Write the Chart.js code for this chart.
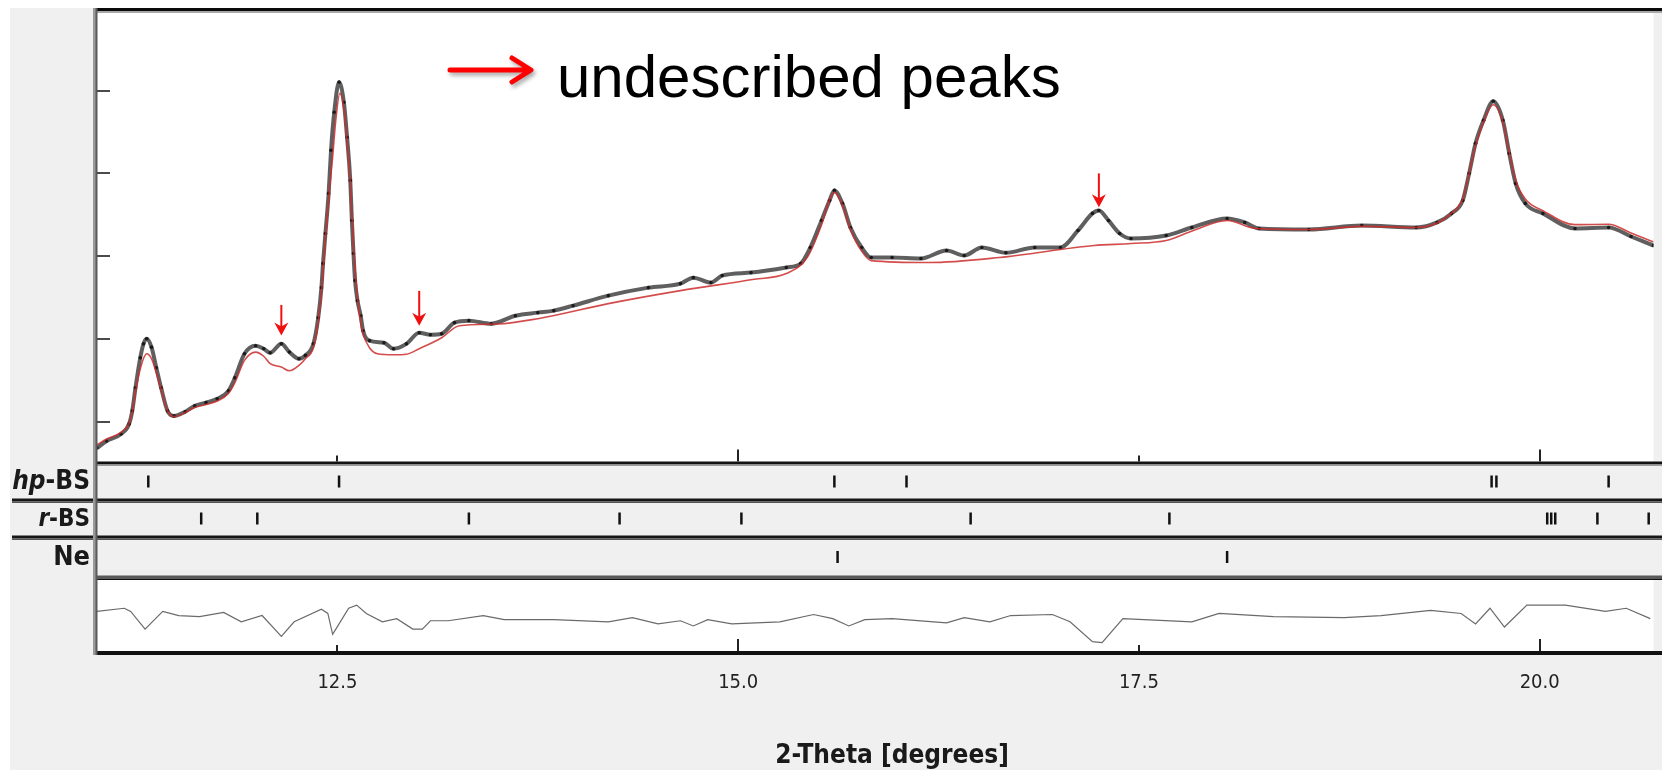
<!DOCTYPE html>
<html>
<head>
<meta charset="utf-8">
<script src="https://cdn.jsdelivr.net/npm/chart.js@4.4.1/dist/chart.umd.min.js"></script>
<style>
  html, body { margin: 0; padding: 0; background: #ffffff; }
  canvas { display: block; }
</style>
</head>
<body>
<canvas id="pattern" width="1662" height="770"></canvas>
<script>
// Observed powder pattern: 2-theta (degrees) and intensity (counts)
const obsTheta = [11.00, 11.06, 11.15, 11.20, 11.22, 11.24, 11.27, 11.29, 11.31, 11.34, 11.37, 11.40, 11.44, 11.48, 11.55, 11.61, 11.68, 11.75, 11.82, 11.86, 11.92, 11.99, 12.04, 12.08, 12.15, 12.20, 12.26, 12.30, 12.35, 12.38, 12.40, 12.41, 12.425, 12.445, 12.46, 12.48, 12.51, 12.54, 12.56, 12.58, 12.59, 12.60, 12.61, 12.625, 12.645, 12.66, 12.70, 12.79, 12.85, 12.93, 13.01, 13.08, 13.15, 13.23, 13.32, 13.46, 13.61, 13.75, 13.85, 13.97, 14.19, 14.44, 14.64, 14.72, 14.83, 14.90, 15.08, 15.30, 15.39, 15.45, 15.52, 15.57, 15.60, 15.65, 15.70, 15.77, 15.83, 15.96, 16.14, 16.30, 16.41, 16.52, 16.67, 16.85, 17.01, 17.12, 17.21, 17.25, 17.31, 17.38, 17.45, 17.67, 17.83, 18.05, 18.16, 18.25, 18.56, 18.89, 19.23, 19.36, 19.45, 19.52, 19.56, 19.60, 19.65, 19.71, 19.77, 19.81, 19.85, 19.91, 20.02, 20.22, 20.43, 20.57, 20.71];
const obsCounts = [682, 766, 851, 972, 1130, 1408, 1772, 1940, 2002, 1900, 1651, 1408, 1130, 1069, 1120, 1190, 1230, 1275, 1372, 1529, 1820, 1917, 1880, 1832, 1941, 1840, 1760, 1800, 1941, 2256, 2619, 2910, 3273, 3758, 4279, 4739, 5102, 4860, 4436, 3915, 3431, 3031, 2704, 2462, 2280, 2099, 1978, 1953, 1881, 1940, 2074, 2050, 2062, 2196, 2220, 2183, 2280, 2317, 2341, 2401, 2522, 2619, 2668, 2740, 2680, 2765, 2801, 2862, 2910, 3104, 3431, 3673, 3794, 3637, 3346, 3104, 2983, 2983, 2971, 3068, 3007, 3104, 3040, 3104, 3104, 3310, 3516, 3552, 3431, 3273, 3213, 3249, 3346, 3455, 3407, 3334, 3322, 3370, 3346, 3407, 3516, 3673, 4000, 4363, 4642, 4872, 4642, 4242, 3879, 3637, 3516, 3334, 3346, 3237, 3128];

// Calculated (refined) profile
const calcTheta = [11.00, 11.06, 11.15, 11.20, 11.22, 11.24, 11.27, 11.31, 11.34, 11.37, 11.40, 11.44, 11.48, 11.61, 11.75, 11.82, 11.86, 11.92, 11.99, 12.04, 12.08, 12.15, 12.20, 12.26, 12.30, 12.35, 12.38, 12.40, 12.425, 12.445, 12.47, 12.49, 12.515, 12.54, 12.56, 12.58, 12.60, 12.62, 12.64, 12.66, 12.70, 12.75, 12.85, 12.93, 13.01, 13.15, 13.26, 13.50, 13.75, 14.19, 14.64, 15.10, 15.30, 15.43, 15.52, 15.57, 15.60, 15.65, 15.70, 15.77, 15.83, 16.19, 16.63, 17.22, 17.45, 17.67, 17.84, 18.05, 18.23, 18.56, 18.89, 19.23, 19.36, 19.45, 19.52, 19.56, 19.60, 19.65, 19.71, 19.77, 19.81, 19.85, 19.91, 20.02, 20.22, 20.43, 20.57, 20.71];
const calcCounts = [720, 790, 870, 975, 1110, 1360, 1640, 1820, 1760, 1590, 1390, 1130, 1060, 1170, 1250, 1340, 1470, 1740, 1840, 1790, 1700, 1660, 1614, 1680, 1760, 1893, 2200, 2560, 3200, 3680, 4200, 4650, 4969, 4780, 4380, 3880, 3150, 2600, 2260, 2060, 1893, 1820, 1808, 1815, 1881, 2014, 2159, 2180, 2244, 2426, 2583, 2720, 2789, 2983, 3380, 3680, 3770, 3620, 3320, 3060, 2946, 2922, 2983, 3128, 3152, 3189, 3310, 3431, 3334, 3322, 3360, 3346, 3400, 3520, 3690, 4000, 4330, 4620, 4830, 4620, 4260, 3920, 3690, 3550, 3380, 3385, 3280, 3170];

// Difference curve (obs - calc)
const diffTheta = [11.00, 11.17, 11.21, 11.30, 11.41, 11.51, 11.64, 11.79, 11.90, 12.03, 12.15, 12.23, 12.40, 12.44, 12.47, 12.49, 12.57, 12.62, 12.68, 12.78, 12.87, 12.97, 13.03, 13.08, 13.19, 13.41, 13.54, 13.85, 14.19, 14.34, 14.50, 14.64, 14.72, 14.81, 14.96, 15.26, 15.47, 15.59, 15.69, 15.79, 15.96, 16.30, 16.41, 16.57, 16.70, 16.96, 17.07, 17.21, 17.27, 17.40, 17.83, 18.00, 18.34, 18.78, 19.01, 19.32, 19.51, 19.60, 19.69, 19.78, 19.92, 20.16, 20.41, 20.54, 20.69];
const diffCounts = [120, 180, 120, -220, 120, 40, 20, 100, -80, 40, -360, -80, 160, 80, -320, -220, 180, 240, 80, -80, -20, -220, -220, -60, -60, 40, -40, -40, -80, 0, -120, -60, -160, -40, -120, -80, 60, -20, -160, -40, -20, -100, 0, -80, 40, 60, -80, -460, -480, -20, -80, 80, 20, 0, 40, 140, 80, -120, 180, -180, 240, 240, 120, 180, -20];

// Reflection positions (2-theta) for each phase
const hpBSReflections = [11.32, 12.51, 15.60, 16.05, 19.70, 19.73, 20.43];
const rBSReflections = [11.65, 12.00, 13.32, 14.26, 15.02, 16.45, 17.69, 20.047, 20.072, 20.097, 20.36, 20.68];
const neReflections = [15.62, 18.05];

// Axis ticks
const thetaTicks = [12.5, 15.0, 17.5, 20.0];
const countTicks = [1000, 2000, 3000, 4000, 5000];

// Full scan range (the plotted window is cut at 20.71)
const scanRange = [11.0, 20.92];

// Peaks not accounted for by the refinement (arrow tail -> tip)
const extraPeakTheta = [12.15, 13.01, 17.25];
const extraPeakTip = [2040, 2160, 3590];
const extraPeakTail = [2410, 2580, 4000];

const UI_FONT = '"DejaVu Sans Condensed", "DejaVu Sans", sans-serif';
const X_TITLE = '2-Theta [degrees]';

function pts(xs, ys) { return xs.map((x, i) => ({ x: x, y: ys[i] })); }
function marks(xs) { return xs.map(x => ({ x: x, y: 0.5 })); }

function hiddenY(extra) {
  return Object.assign({
    type: 'linear',
    position: 'left',
    stack: 'panels',
    offset: false,
    grid: { display: false, drawTicks: false },
    border: { display: false },
    ticks: { display: false },
    afterFit: s => { s.width = 0; }
  }, extra);
}

function drawRichText(ctx, parts, rightX, midY, size) {
  let total = 0;
  parts.forEach(p => {
    ctx.font = (p.italic ? 'italic ' : '') + 'bold ' + size + 'px ' + UI_FONT;
    p.w = ctx.measureText(p.text).width;
    total += p.w;
  });
  let x = rightX - total;
  ctx.textBaseline = 'middle';
  ctx.textAlign = 'left';
  parts.forEach(p => {
    ctx.font = (p.italic ? 'italic ' : '') + 'bold ' + size + 'px ' + UI_FONT;
    ctx.fillText(p.text, x, midY);
    x += p.w;
  });
}

const framePlugin = {
  id: 'frame',
  beforeDraw(chart) {
    const { ctx, width, height, chartArea, scales } = chart;
    ctx.save();
    ctx.fillStyle = '#ffffff';
    ctx.fillRect(0, 0, width, height);
    ctx.fillStyle = '#f0f0f0';
    ctx.fillRect(10, 8, width - 10, height - 8);
    ctx.fillStyle = '#ffffff';
    const w = chartArea.right - chartArea.left;
    ctx.fillRect(chartArea.left, scales.yMain.top, w, scales.yMain.bottom - scales.yMain.top);
    ctx.fillRect(chartArea.left, scales.yRes.top, w, scales.yRes.bottom - scales.yRes.top);
    ctx.restore();
  },
  afterDatasetsDraw(chart) {
    const { ctx, chartArea, scales } = chart;
    const L = chartArea.left, R = chart.width;
    const x = scales.x, yM = scales.yMain, yH = scales.yHp, yR = scales.yR, yN = scales.yNe, yD = scales.yRes;
    ctx.save();

    // panel separators
    function band(x0, yc, dark, light) {
      ctx.fillStyle = dark;
      ctx.fillRect(x0, yc - 1.5, R - x0, 3);
      ctx.fillStyle = light;
      ctx.fillRect(x0, yc + 1.5, R - x0, 1.5);
    }
    // top frame
    ctx.fillStyle = '#0a0a0a';
    ctx.fillRect(L, 8, R - L, 3);
    ctx.fillStyle = '#a8a8a8';
    ctx.fillRect(L, 11, R - L, 2);
    band(L, yM.bottom, '#111111', '#9a9a9a');
    band(12, yH.bottom, '#161616', '#555555');
    band(12, yR.bottom, '#161616', '#555555');
    band(L, yN.bottom, '#5a5a5a', '#111111');
    ctx.fillStyle = '#111111';
    ctx.fillRect(L, yD.bottom - 1, R - L, 4);
    // left frame
    ctx.fillStyle = '#9a9a9a';
    ctx.fillRect(L - 4, 8, 3, yD.bottom + 3 - 8);
    ctx.fillStyle = '#5a5a5a';
    ctx.fillRect(L - 1.5, 8, 2, yD.bottom + 3 - 8);

    // intensity ticks, drawn inward
    ctx.fillStyle = '#4a4a4a';
    yM.ticks.forEach(t => {
      const py = Math.round(yM.getPixelForValue(t.value));
      ctx.fillRect(L, py - 1, 13, 2);
    });

    // 2-theta ticks on the main and difference panels
    ctx.fillStyle = '#222222';
    x.ticks.forEach(t => {
      const px = Math.round(x.getPixelForValue(t.value));
      const len = (Math.abs(t.value % 5) < 1e-6) ? 12 : 6;
      ctx.fillRect(px - 1, yM.bottom - 1.5 - len, 2, len);
      ctx.fillRect(px - 1, yD.bottom - 1 - len, 2, len);
    });

    // red arrows on unindexed peaks
    ctx.fillStyle = '#f01010';
    ctx.strokeStyle = '#f01010';
    ctx.lineWidth = 2;
    extraPeakTheta.forEach((th, i) => {
      const px = x.getPixelForValue(th);
      const tip = yM.getPixelForValue(extraPeakTip[i]);
      const tail = yM.getPixelForValue(extraPeakTail[i]);
      ctx.beginPath();
      ctx.moveTo(px, tail);
      ctx.lineTo(px, tip - 8);
      ctx.stroke();
      ctx.beginPath();
      ctx.moveTo(px, tip);
      ctx.lineTo(px - 7, tip - 13);
      ctx.lineTo(px, tip - 9);
      ctx.lineTo(px + 7, tip - 13);
      ctx.closePath();
      ctx.fill();
    });

    // key: arrow + caption
    const kx = L + 353, ky = 70;
    ctx.save();
    ctx.shadowColor = 'rgba(0,0,0,0.35)';
    ctx.shadowBlur = 4;
    ctx.shadowOffsetX = 2;
    ctx.shadowOffsetY = 3;
    ctx.strokeStyle = '#ff0000';
    ctx.lineWidth = 5;
    ctx.lineCap = 'round';
    ctx.lineJoin = 'round';
    ctx.beginPath();
    ctx.moveTo(kx, ky);
    ctx.lineTo(kx + 80, ky);
    ctx.moveTo(kx + 62, ky - 12);
    ctx.lineTo(kx + 81, ky);
    ctx.lineTo(kx + 62, ky + 12);
    ctx.stroke();
    ctx.restore();
    ctx.fillStyle = '#000000';
    ctx.font = '60px "Liberation Sans", Arial, sans-serif';
    ctx.textAlign = 'left';
    ctx.textBaseline = 'alphabetic';
    ctx.fillText('undescribed peaks', kx + 107, 97);

    // phase labels
    ctx.fillStyle = '#1a1a1a';
    drawRichText(ctx, [{ text: 'hp', italic: true }, { text: '-BS' }], L - 7, (yH.top + yH.bottom) / 2 + 1, 26);
    drawRichText(ctx, [{ text: 'r', italic: true }, { text: '-BS' }], L - 7, (yR.top + yR.bottom) / 2 + 1, 24);
    drawRichText(ctx, [{ text: 'Ne' }], L - 7, (yN.top + yN.bottom) / 2 + 1, 27);

    // x-axis title, centred on the full scan range
    ctx.fillStyle = '#1a1a1a';
    ctx.font = 'bold 26px ' + UI_FONT;
    ctx.textAlign = 'center';
    ctx.textBaseline = 'middle';
    ctx.fillText(X_TITLE, x.getPixelForValue((scanRange[0] + scanRange[1]) / 2), 756);
    ctx.restore();
  }
};

const tickMarkStyle = {
  type: 'line',
  showLine: false,
  pointStyle: 'line',
  rotation: 90,
  pointRadius: 6,
  pointBorderWidth: 2.5,
  borderColor: '#111111',
  backgroundColor: '#111111'
};

new Chart(document.getElementById('pattern'), {
  type: 'line',
  data: {
    datasets: [
      {
        label: 'calc',
        data: pts(calcTheta, calcCounts),
        yAxisID: 'yMain',
        borderColor: 'rgba(205,45,45,0.85)',
        borderWidth: 1.6,
        pointRadius: 0,
        cubicInterpolationMode: 'monotone',
        order: 0
      },
      {
        label: 'obs',
        data: pts(obsTheta, obsCounts),
        yAxisID: 'yMain',
        borderColor: 'rgba(60,60,60,0.82)',
        borderWidth: 4,
        pointRadius: 1.8,
        pointBorderWidth: 0,
        pointBackgroundColor: '#1a1a1a',
        cubicInterpolationMode: 'monotone',
        order: 1
      },
      {
        label: 'diff',
        data: pts(diffTheta, diffCounts),
        yAxisID: 'yRes',
        borderColor: '#6a6a6a',
        borderWidth: 1.2,
        pointRadius: 0,
        tension: 0,
        order: 2
      },
      Object.assign({ label: 'hp-BS', data: marks(hpBSReflections), yAxisID: 'yHp', order: 3 }, tickMarkStyle),
      Object.assign({ label: 'r-BS', data: marks(rBSReflections), yAxisID: 'yR', order: 3 }, tickMarkStyle),
      Object.assign({ label: 'Ne', data: marks(neReflections), yAxisID: 'yNe', order: 3 }, tickMarkStyle)
    ]
  },
  options: {
    responsive: false,
    animation: false,
    devicePixelRatio: 1,
    layout: { padding: { left: 97, right: 0, top: 12, bottom: 0 } },
    plugins: { legend: { display: false }, tooltip: { enabled: false } },
    scales: {
      x: {
        type: 'linear',
        position: 'bottom',
        min: scanRange[0],
        max: 20.71,
        grid: { display: false, drawTicks: false },
        border: { display: false },
        afterBuildTicks: s => { s.ticks = thetaTicks.map(v => ({ value: v })); },
        afterFit: s => { s.height = 118; },
        ticks: {
          padding: 19,
          color: '#222222',
          font: { family: UI_FONT, size: 20 },
          callback: v => Number(v).toFixed(1),
          maxRotation: 0
        },
        title: { display: false }
      },
      yMain: hiddenY({
        weight: 5, stackWeight: 451, min: 500, max: 5950,
        afterBuildTicks: s => { s.ticks = countTicks.map(v => ({ value: v })); }
      }),
      yHp: hiddenY({ weight: 4, stackWeight: 37, min: 0, max: 1 }),
      yR: hiddenY({ weight: 3, stackWeight: 37, min: 0, max: 1 }),
      yNe: hiddenY({ weight: 2, stackWeight: 40, min: 0, max: 1 }),
      yRes: hiddenY({ weight: 1, stackWeight: 75, min: -660, max: 780 })
    }
  },
  plugins: [framePlugin]
});
</script>
</body>
</html>
